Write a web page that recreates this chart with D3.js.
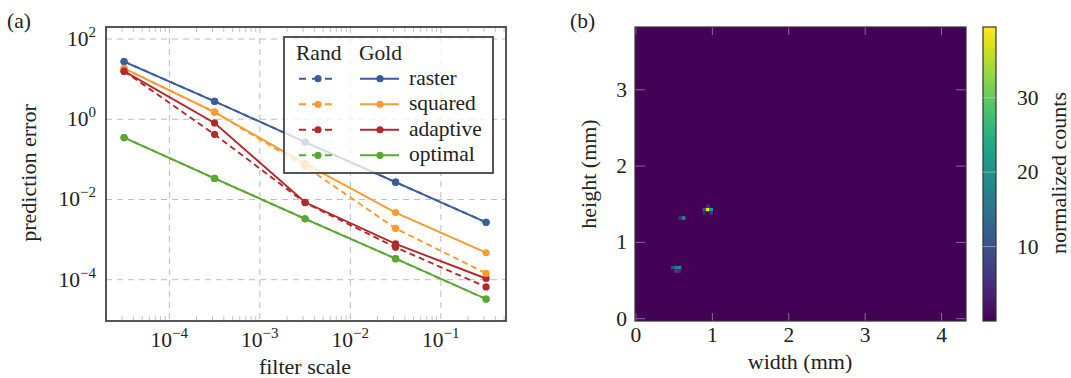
<!DOCTYPE html>
<html>
<head>
<meta charset="utf-8">
<script src="https://cdn.jsdelivr.net/npm/d3@7"></script>
<style>
  body { margin: 0; background: #fff; }
  svg text { font-family: "Liberation Serif", "Times New Roman", serif; fill: #222; }
</style>
</head>
<body>
<svg id="chart" width="1071" height="378"></svg>
<script>
// ---- panel (a) data ----
const filterScales = [3.16e-5, 3.16e-4, 3.16e-3, 3.16e-2, 3.16e-1];
const methods = ['raster', 'squared', 'adaptive', 'optimal'];
const methodColors = ['#3b5e98', '#ff9a30', '#b3282d', '#5aa832'];
const goldRaster   = [27.5, 2.8, 0.27, 0.027, 0.0027];
const goldSquared  = [18.5, 1.5, 0.078, 0.0047, 4.7e-4];
const goldAdaptive = [15.8, 0.81, 0.0085, 7.8e-4, 1.07e-4];
const goldOptimal  = [0.35, 0.0335, 0.0033, 3.35e-4, 3.3e-5];
const randRaster   = [27.5, 2.8, 0.27, 0.027, 0.0027];
const randSquared  = [18.5, 1.5, 0.067, 0.0019, 1.44e-4];
const randAdaptive = [15.8, 0.42, 0.0083, 6.4e-4, 6.6e-5];
const randOptimal  = [0.35, 0.0335, 0.0033, 3.35e-4, 3.3e-5];
const xTickExps = [-4, -3, -2, -1];
const yTickExps = [2, 0, -2, -4];

// ---- panel (b) data ----
const cellSize = 0.045;          // mm
const backgroundCount = 0.3;
// hot pixels: [x mm, y mm, normalized counts]
const hotCells = [
  [0.895, 1.43, 12], [0.94, 1.43, 38], [0.985, 1.43, 22], [0.94, 1.475, 5], [0.895, 1.385, 4],
  [0.985, 1.385, 6],
  [0.58, 1.32, 6], [0.625, 1.32, 20],
  [0.48, 0.67, 8], [0.525, 0.67, 17], [0.57, 0.67, 19], [0.525, 0.625, 8], [0.57, 0.625, 5]
];
const widthTicks = [0, 1, 2, 3, 4];
const heightTicks = [0, 1, 2, 3];
const countTicks = [10, 20, 30];

const svg = d3.select('#chart');
const tickFont = 21.5, labelFont = 22;

// ================= panel (a) =================
const ax = { left: 106, right: 506, top: 27, bottom: 321 };
const x = d3.scaleLog().domain([Math.pow(10, -4.70), Math.pow(10, -0.28)]).range([ax.left, ax.right]);
const y = d3.scaleLog().domain([Math.pow(10, -5.03), Math.pow(10, 2.3)]).range([ax.bottom, ax.top]);

const gA = svg.append('g');

// grid
gA.selectAll('.vgrid').data(xTickExps).join('line')
  .attr('x1', d => x(Math.pow(10, d))).attr('x2', d => x(Math.pow(10, d)))
  .attr('y1', ax.top).attr('y2', ax.bottom)
  .attr('stroke', '#bdbdbd').attr('stroke-width', 1).attr('stroke-dasharray', '6 5');
gA.selectAll('.hgrid').data(yTickExps).join('line')
  .attr('y1', d => y(Math.pow(10, d))).attr('y2', d => y(Math.pow(10, d)))
  .attr('x1', ax.left).attr('x2', ax.right)
  .attr('stroke', '#bdbdbd').attr('stroke-width', 1).attr('stroke-dasharray', '6 5');

// minor ticks on x (inside, top and bottom)
const minorX = [];
for (let e = -5; e <= 0; e++) for (let m = 2; m <= 9; m++) {
  const v = m * Math.pow(10, e);
  if (v > x.domain()[0] && v < x.domain()[1]) minorX.push(v);
}
gA.selectAll('.minb').data(minorX).join('line')
  .attr('x1', d => x(d)).attr('x2', d => x(d))
  .attr('y1', ax.bottom).attr('y2', ax.bottom - 5)
  .attr('stroke', '#c4c4c4').attr('stroke-width', 1);
gA.selectAll('.mint').data(minorX).join('line')
  .attr('x1', d => x(d)).attr('x2', d => x(d))
  .attr('y1', ax.top).attr('y2', ax.top + 5)
  .attr('stroke', '#c4c4c4').attr('stroke-width', 1);

// series
const line = d3.line().x((d, i) => x(filterScales[i])).y(d => y(d));
const gold = [goldRaster, goldSquared, goldAdaptive, goldOptimal];
const rand = [randRaster, randSquared, randAdaptive, randOptimal];

function drawSeries(vals, color, dashed) {
  gA.append('path').datum(vals)
    .attr('d', line).attr('fill', 'none')
    .attr('stroke', color).attr('stroke-width', 1.9)
    .attr('stroke-dasharray', dashed ? '6 4' : null);
  gA.append('g').selectAll('circle').data(vals).join('circle')
    .attr('cx', (d, i) => x(filterScales[i])).attr('cy', d => y(d))
    .attr('r', 3.6).attr('fill', color);
}
methods.forEach((m, k) => drawSeries(gold[k], methodColors[k], false));
methods.forEach((m, k) => drawSeries(rand[k], methodColors[k], true));

// frame
gA.append('rect').attr('x', ax.left).attr('y', ax.top)
  .attr('width', ax.right - ax.left).attr('height', ax.bottom - ax.top)
  .attr('fill', 'none').attr('stroke', '#444').attr('stroke-width', 1.8);

// tick labels
function powLabel(sel, exp) {
  sel.text('10');
  sel.append('tspan').attr('dy', -9).attr('font-size', 15)
    .text(exp < 0 ? '\u2212' + Math.abs(exp) : String(exp));
}
gA.selectAll('.xl').data(xTickExps).join('text')
  .attr('x', d => x(Math.pow(10, d))).attr('y', 347)
  .attr('text-anchor', 'middle').attr('font-size', tickFont)
  .each(function (d) { powLabel(d3.select(this), d); });
gA.selectAll('.yl').data(yTickExps).join('text')
  .attr('x', 96).attr('y', d => y(Math.pow(10, d)) + 7)
  .attr('text-anchor', 'end').attr('font-size', tickFont)
  .each(function (d) { powLabel(d3.select(this), d); });

gA.append('text').attr('x', 305).attr('y', 374).attr('text-anchor', 'middle')
  .attr('font-size', labelFont).text('filter scale');
gA.append('text').attr('transform', 'translate(36,173) rotate(-90)')
  .attr('text-anchor', 'middle').attr('font-size', labelFont).text('prediction error');
gA.append('text').attr('x', 7).attr('y', 28).attr('font-size', tickFont).text('(a)');

// legend
const lg = gA.append('g');
lg.append('rect').attr('x', 284).attr('y', 37).attr('width', 209).attr('height', 136)
  .attr('fill', '#fff').attr('fill-opacity', 0.78)
  .attr('stroke', '#444').attr('stroke-width', 1.8);
lg.append('text').attr('x', 296).attr('y', 60).attr('font-size', tickFont).text('Rand');
lg.append('text').attr('x', 359).attr('y', 60).attr('font-size', tickFont).text('Gold');
const rowY = d3.scalePoint().domain(methods).range([78.7, 155.3]);
methods.forEach((m, k) => {
  const yy = rowY(m), c = methodColors[k];
  lg.append('line').attr('x1', 299).attr('x2', 333).attr('y1', yy).attr('y2', yy)
    .attr('stroke', c).attr('stroke-width', 1.9).attr('stroke-dasharray', '7 6');
  lg.append('circle').attr('cx', 318).attr('cy', yy).attr('r', 3.6).attr('fill', c);
  lg.append('line').attr('x1', 360).attr('x2', 399).attr('y1', yy).attr('y2', yy)
    .attr('stroke', c).attr('stroke-width', 1.9);
  lg.append('circle').attr('cx', 380).attr('cy', yy).attr('r', 3.6).attr('fill', c);
  lg.append('text').attr('x', 409).attr('y', yy + 6).attr('font-size', tickFont).text(m);
});

// ================= panel (b) =================
const bx = { left: 635, right: 966, top: 27, bottom: 321 };
const wx = d3.scaleLinear().domain([-0.013, 4.32]).range([bx.left, bx.right]);
const hy = d3.scaleLinear().domain([-0.03, 3.823]).range([bx.bottom, bx.top]);
const color = d3.scaleSequential(d3.interpolateViridis).domain([0, 39.5]);

const gB = svg.append('g');
gB.append('rect').attr('x', bx.left).attr('y', bx.top)
  .attr('width', bx.right - bx.left).attr('height', bx.bottom - bx.top)
  .attr('fill', color(backgroundCount));
gB.selectAll('.cell').data(hotCells).join('rect')
  .attr('x', d => wx(d[0] - cellSize / 2)).attr('y', d => hy(d[1] + cellSize / 2))
  .attr('width', wx(cellSize) - wx(0)).attr('height', hy(0) - hy(cellSize))
  .attr('fill', d => color(d[2]));

// inner ticks
const tickCol = 'rgba(200,190,210,0.55)';
widthTicks.forEach(t => {
  gB.append('line').attr('x1', wx(t)).attr('x2', wx(t)).attr('y1', bx.bottom).attr('y2', bx.bottom - 8)
    .attr('stroke', tickCol);
  gB.append('line').attr('x1', wx(t)).attr('x2', wx(t)).attr('y1', bx.top).attr('y2', bx.top + 8)
    .attr('stroke', tickCol);
});
heightTicks.forEach(t => {
  gB.append('line').attr('y1', hy(t)).attr('y2', hy(t)).attr('x1', bx.left).attr('x2', bx.left + 10)
    .attr('stroke', tickCol);
  gB.append('line').attr('y1', hy(t)).attr('y2', hy(t)).attr('x1', bx.right).attr('x2', bx.right - 10)
    .attr('stroke', tickCol);
});
gB.append('rect').attr('x', bx.left).attr('y', bx.top)
  .attr('width', bx.right - bx.left).attr('height', bx.bottom - bx.top)
  .attr('fill', 'none').attr('stroke', '#333').attr('stroke-width', 1.2);

gB.selectAll('.wl').data(widthTicks).join('text')
  .attr('x', d => wx(d)).attr('y', 342).attr('text-anchor', 'middle').attr('font-size', tickFont)
  .text(d => d);
gB.selectAll('.hl').data(heightTicks).join('text')
  .attr('x', 627).attr('y', d => hy(d) + 7).attr('text-anchor', 'end').attr('font-size', tickFont)
  .text(d => d);
gB.append('text').attr('x', 800).attr('y', 369).attr('text-anchor', 'middle')
  .attr('font-size', labelFont).text('width (mm)');
gB.append('text').attr('transform', 'translate(596,174) rotate(-90)')
  .attr('text-anchor', 'middle').attr('font-size', labelFont).text('height (mm)');
gB.append('text').attr('x', 570).attr('y', 28).attr('font-size', tickFont).text('(b)');

// colorbar
const cb = { left: 983, right: 996 };
const cy = d3.scaleLinear().domain(color.domain()).range([bx.bottom, bx.top]);
const grad = svg.append('defs').append('linearGradient').attr('id', 'vir')
  .attr('x1', 0).attr('x2', 0).attr('y1', 1).attr('y2', 0);
grad.selectAll('stop').data(d3.range(0, 1.0001, 0.05)).join('stop')
  .attr('offset', d => d).attr('stop-color', d => color(d * 39.5));
gB.append('rect').attr('x', cb.left).attr('y', bx.top)
  .attr('width', cb.right - cb.left).attr('height', bx.bottom - bx.top)
  .attr('fill', 'url(#vir)').attr('stroke', '#333').attr('stroke-width', 1.2);
gB.selectAll('.ct').data(countTicks).join('line')
  .attr('x1', cb.left).attr('x2', cb.right).attr('y1', d => cy(d)).attr('y2', d => cy(d))
  .attr('stroke', 'rgba(220,220,220,0.5)');
gB.selectAll('.cl').data(countTicks).join('text')
  .attr('x', 1017).attr('y', d => cy(d) + 7).attr('font-size', tickFont).text(d => d);
gB.append('text').attr('transform', 'translate(1066,173) rotate(-90)')
  .attr('text-anchor', 'middle').attr('font-size', labelFont).text('normalized counts');
</script>
</body>
</html>
